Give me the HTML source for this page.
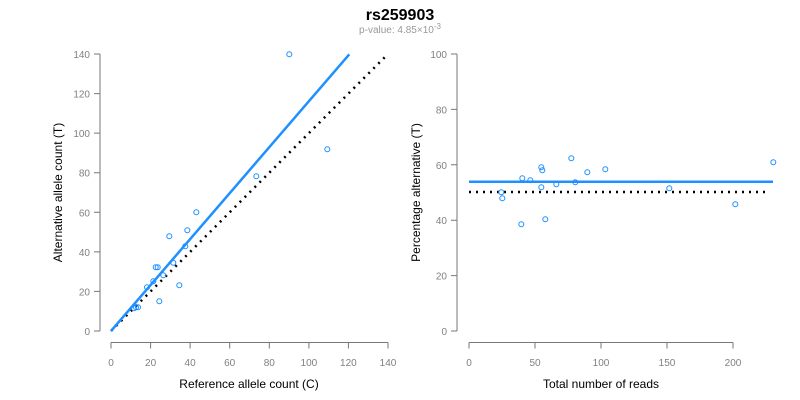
<!DOCTYPE html>
<html><head><style>body{margin:0;background:#fff}svg{display:block}</style></head><body>
<svg width="800" height="400" xmlns="http://www.w3.org/2000/svg" font-family="Liberation Sans, Arial, sans-serif">
<rect width="800" height="400" fill="#fff"/>
<text x="400" y="20" text-anchor="middle" font-size="16" font-weight="bold">rs259903</text>
<text x="400" y="33" text-anchor="middle" font-size="10" fill="#999">p-value: 4.85×10<tspan dy="-4" font-size="8">-3</tspan></text>
<g stroke="#777" fill="none" stroke-width="1">
<path d="M100,54V331M94,54H100M94,93.6H100M94,133.1H100M94,172.7H100M94,212.3H100M94,251.9H100M94,291.4H100M94,331H100"/>
<path d="M111,342.5H388M111,342.5v6M150.6,342.5v6M190.1,342.5v6M229.7,342.5v6M269.3,342.5v6M308.9,342.5v6M348.4,342.5v6M388,342.5v6"/>
<path d="M457,54V331M451,54H457M451,109.4H457M451,164.8H457M451,220.2H457M451,275.6H457M451,331H457"/>
<path d="M469,342.5H733M469,342.5v6M535,342.5v6M601,342.5v6M667,342.5v6M733,342.5v6"/>
</g>
<g font-size="10" fill="#808080" text-anchor="end">
<text x="90" y="58">140</text><text x="90" y="97.6">120</text><text x="90" y="137.1">100</text><text x="90" y="176.7">80</text><text x="90" y="216.3">60</text><text x="90" y="255.9">40</text><text x="90" y="295.4">20</text><text x="90" y="335">0</text>
<text x="447" y="58">100</text><text x="447" y="113.4">80</text><text x="447" y="168.8">60</text><text x="447" y="224.2">40</text><text x="447" y="279.6">20</text><text x="447" y="335">0</text>
</g>
<g font-size="10" fill="#808080" text-anchor="middle">
<text x="111" y="366">0</text><text x="150.6" y="366">20</text><text x="190.1" y="366">40</text><text x="229.7" y="366">60</text><text x="269.3" y="366">80</text><text x="308.9" y="366">100</text><text x="348.4" y="366">120</text><text x="388" y="366">140</text>
<text x="469" y="366">0</text><text x="535" y="366">50</text><text x="601" y="366">100</text><text x="667" y="366">150</text><text x="733" y="366">200</text>
</g>
<g font-size="12" fill="#000" text-anchor="middle">
<text x="249" y="388">Reference allele count (C)</text>
<text x="601" y="388">Total number of reads</text>
<text transform="translate(62,192.5) rotate(-90)">Alternative allele count (T)</text>
<text transform="translate(420,192.5) rotate(-90)">Percentage alternative (T)</text>
</g>
<line x1="111" y1="331" x2="388" y2="54" stroke="#000" stroke-width="2.5" stroke-dasharray="2,5"/>
<line x1="111" y1="331" x2="349.3" y2="54.3" stroke="#1e90ff" stroke-width="2.5"/>
<line x1="469" y1="192" x2="768" y2="192" stroke="#000" stroke-width="2.5" stroke-dasharray="2,5"/>
<line x1="469" y1="181.7" x2="773" y2="181.7" stroke="#1e90ff" stroke-width="2.5"/>
<g fill="none" stroke="#1e90ff" stroke-width="1">
<circle cx="289.3" cy="54.3" r="2.5"/><circle cx="327.3" cy="149.3" r="2.5"/><circle cx="256.3" cy="176.3" r="2.5"/><circle cx="196.3" cy="212.3" r="2.5"/><circle cx="187.3" cy="230.3" r="2.5"/><circle cx="169.3" cy="236.3" r="2.5"/><circle cx="185.3" cy="246.3" r="2.5"/><circle cx="173.3" cy="262.7" r="2.5"/><circle cx="155.7" cy="267.3" r="2.5"/><circle cx="157.7" cy="267.3" r="2.5"/><circle cx="163.3" cy="275.3" r="2.5"/><circle cx="153.3" cy="281.3" r="2.5"/><circle cx="147" cy="287.3" r="2.5"/><circle cx="179.3" cy="285.3" r="2.5"/><circle cx="159.3" cy="301.3" r="2.5"/><circle cx="136" cy="307.3" r="2.5"/><circle cx="138" cy="307.3" r="2.5"/><circle cx="134" cy="308.3" r="2.5"/>
<circle cx="501.3" cy="192.3" r="2.5"/><circle cx="502.3" cy="198.3" r="2.5"/><circle cx="521.3" cy="224.3" r="2.5"/><circle cx="522.3" cy="178.3" r="2.5"/><circle cx="530.3" cy="180.3" r="2.5"/><circle cx="541.3" cy="167.3" r="2.5"/><circle cx="542.3" cy="170.3" r="2.5"/><circle cx="541.3" cy="187.3" r="2.5"/><circle cx="545.3" cy="219.3" r="2.5"/><circle cx="556.3" cy="184.3" r="2.5"/><circle cx="571.3" cy="158.3" r="2.5"/><circle cx="575.3" cy="182.3" r="2.5"/><circle cx="587.3" cy="172.3" r="2.5"/><circle cx="605.3" cy="169.3" r="2.5"/><circle cx="669.3" cy="188.3" r="2.5"/><circle cx="735.3" cy="204.3" r="2.5"/><circle cx="773.3" cy="162.3" r="2.5"/>
</g>
</svg>
</body></html>
